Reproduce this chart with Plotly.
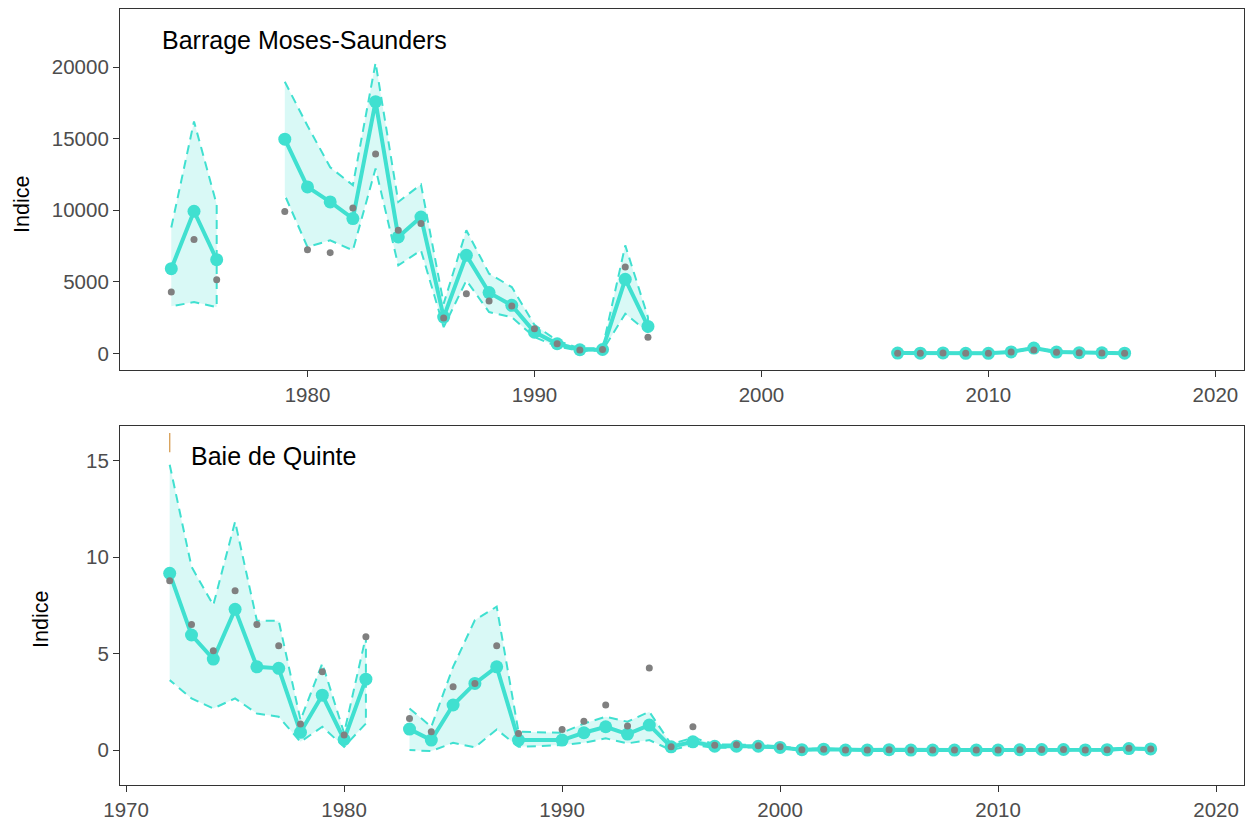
import plotly.graph_objects as go

# ---------------- DATA ----------------
# Barrage Moses-Saunders (None = break in series)
ms_years = [1974, 1975, 1976, 1977, 1979, 1980, 1981, 1982, 1983, 1984, 1985, 1986, 1987, 1988,
            1989, 1990, 1991, 1992, 1993, 1994, 1995, 2000, 2006, 2007, 2008, 2009, 2010, 2011,
            2012, 2013, 2014, 2015, 2016]
ms_fit = [5920, 9930, 6550, None, 14960, 11630, 10580, 9420, 17580, 8140, 9530, 2540, 6850, 4250,
          3360, 1490, 680, 260, 280, 5180, 1890, None, 30, 20, 40, 15, 15, 110,
          380, 100, 60, 50, 20]
ms_obs = [4290, 7950, 5150, None, 9910, 7250, 7040, 10160, 13920, 8600, 9070, 2470, 4170, 3660,
          3310, 1720, 680, 250, 280, 6040, 1140, None, 20, 10, 30, 10, 10, 100,
          250, 80, 50, 40, 10]
ms_upper = [8800, 16200, 10400, None, 18970, 15900, 13000, 11750, 20300, 10580, 11800, 3480, 8600, 5570,
            4640, 2000, 900, 350, 380, 7550, 2540, None, 60, 50, 70, 45, 45, 150,
            430, 140, 90, 80, 50]
ms_lower = [3290, 3590, 3240, None, 11050, 7430, 7900, 7200, 12920, 6150, 7200, 1840, 5100, 2890,
            2540, 1140, 500, 180, 200, 2780, 1490, None, 10, 5, 15, 5, 5, 80,
            320, 70, 40, 30, 5]

# Baie de Quinte
bq_years = [1972, 1973, 1974, 1975, 1976, 1977, 1978, 1979, 1980, 1981, 1982, 1983, 1984, 1985,
            1986, 1987, 1988, 1990, 1991, 1992, 1993, 1994, 1995, 1996, 1997, 1998, 1999, 2000,
            2001, 2002, 2003, 2004, 2005, 2006, 2007, 2008, 2009, 2010, 2011, 2012, 2013, 2014,
            2015, 2016, 2017]
bq_fit = [9.17, 5.97, 4.72, 7.30, 4.32, 4.24, 0.92, 2.85, 0.55, 3.68, None, 1.09, 0.52, 2.34,
          3.46, 4.32, 0.52, 0.52, 0.90, 1.21, 0.83, 1.30, 0.17, 0.43, 0.20, 0.20, 0.20, 0.14,
          0.02, 0.05, 0.0, 0.0, 0.02, 0.0, 0.0, 0.0, 0.0, 0.0, 0.02, 0.03, 0.03, 0.01,
          0.02, 0.08, 0.06]
bq_obs = [8.79, 6.52, 5.15, 8.27, 6.52, 5.41, 1.35, 4.06, 0.78, 5.88, None, 1.64, 0.95, 3.29,
          3.46, 5.41, 0.86, 1.07, 1.50, 2.34, 1.25, 4.26, 0.17, 1.21, 0.25, 0.28, 0.22, 0.17,
          0.02, 0.05, 0.0, 0.0, 0.02, 0.0, 0.0, 0.0, 0.0, 0.0, 0.02, 0.03, 0.03, 0.01,
          0.02, 0.09, 0.06]
bq_upper = [14.8, 9.51, 7.52, 11.85, 6.71, 6.71, 1.56, 4.50, 0.88, 5.90, None, 2.16, 1.21, 4.32,
            6.75, 7.44, 0.95, 0.90, 1.38, 1.73, 1.47, 1.99, 0.30, 0.65, 0.30, 0.28, 0.26, 0.20,
            0.06, 0.09, 0.04, 0.04, 0.06, 0.04, 0.04, 0.04, 0.04, 0.04, 0.06, 0.07, 0.07, 0.05,
            0.06, 0.13, 0.10]
bq_lower = [3.63, 2.68, 2.16, 2.68, 1.90, 1.73, 0.43, 1.21, 0.17, 1.38, None, 0.00, -0.05, 0.38,
            0.14, 1.07, 0.17, 0.26, 0.38, 0.61, 0.35, 0.52, 0.00, 0.26, 0.12, 0.13, 0.14, 0.09,
            -0.02, 0.01, -0.03, -0.03, -0.02, -0.03, -0.03, -0.03, -0.03, -0.03, -0.02, -0.01, -0.01, -0.03,
            -0.02, 0.04, 0.02]

# orange segment at the top of the Baie de Quinte panel
bq_orange_x = [1972, 1972]
bq_orange_y = [15.45, 16.45]

x_ticks_top = [1980, 1990, 2000, 2010, 2020]
x_ticks_bottom = [1970, 1980, 1990, 2000, 2010, 2020]
y_ticks_top = [0, 5000, 10000, 15000, 20000]
y_ticks_bottom = [0, 5, 10, 15]

panel_titles = ["Barrage Moses-Saunders", "Baie de Quinte"]
y_title = "Indice"

# ---------------- STYLE ----------------
W, H = 1251, 820
TEAL = "#40E0D0"
FILL = "rgba(64,224,208,0.2)"
GRAY = "#808080"
FONT = "Liberation Sans, Arial, sans-serif"


def segments(xs, lo, hi):
    segs, cx, cl, ch = [], [], [], []
    for x, l, h in zip(xs, lo, hi):
        if l is None or h is None:
            if cx:
                segs.append((cx, cl, ch))
            cx, cl, ch = [], [], []
        else:
            cx.append(x); cl.append(l); ch.append(h)
    if cx:
        segs.append((cx, cl, ch))
    return segs


fig = go.Figure()


def add_panel(xs, fit, obs, up, lo, xa, ya):
    for sx, sl, sh in segments(xs, lo, up):
        fig.add_trace(go.Scatter(
            x=sx + sx[::-1], y=sh + sl[::-1], mode="lines", fill="toself",
            fillcolor=FILL, line=dict(color=TEAL, width=2, dash="9px,6px"),
            hoverinfo="skip", showlegend=False, xaxis=xa, yaxis=ya))
    fig.add_trace(go.Scatter(
        x=xs, y=fit, mode="lines+markers", connectgaps=False,
        line=dict(color=TEAL, width=4), marker=dict(color=TEAL, size=13),
        showlegend=False, xaxis=xa, yaxis=ya))
    fig.add_trace(go.Scatter(
        x=xs, y=obs, mode="markers",
        marker=dict(color=GRAY, size=7), showlegend=False, xaxis=xa, yaxis=ya))


add_panel(ms_years, ms_fit, ms_obs, ms_upper, ms_lower, "x", "y")
add_panel(bq_years, bq_fit, bq_obs, bq_upper, bq_lower, "x2", "y2")
fig.add_trace(go.Scatter(x=bq_orange_x, y=bq_orange_y, mode="lines",
                         line=dict(color="#D9A45F", width=1.4), showlegend=False,
                         xaxis="x2", yaxis="y2"))

xdom = [120 / W, 1244 / W]
axis_common = dict(showline=True, mirror=True, linecolor="#333333", linewidth=1.2,
                   showgrid=False, zeroline=False, ticks="outside", ticklen=6,
                   tickwidth=1.2, tickcolor="#333333", automargin=False, tickformat="d",
                   tickfont=dict(family=FONT, size=20.5, color="#4D4D4D"))

fig.update_layout(
    width=W, height=H, margin=dict(l=0, r=0, t=0, b=0),
    paper_bgcolor="white", plot_bgcolor="white", showlegend=False,
    xaxis=dict(domain=xdom, range=[1971.74, 2021.26], tickvals=x_ticks_top, anchor="y", **axis_common),
    yaxis=dict(domain=[1 - 370 / H, 1 - 9 / H], range=[-1152, 24049], tickvals=y_ticks_top,
               anchor="x", **axis_common),
    xaxis2=dict(domain=xdom, range=[1969.72, 2021.28], tickvals=x_ticks_bottom, anchor="y2", **axis_common),
    yaxis2=dict(domain=[1 - 785 / H, 1 - 426 / H], range=[-1.81, 16.81], tickvals=y_ticks_bottom,
                anchor="x2", **axis_common),
)

ann = [
    dict(text=panel_titles[0], x=160 / W, y=1 - 40 / H, xanchor="left", yanchor="middle",
         font=dict(family=FONT, size=25, color="black")),
    dict(text=panel_titles[1], x=189 / W, y=1 - 456 / H, xanchor="left", yanchor="middle",
         font=dict(family=FONT, size=25, color="black")),
    dict(text=y_title, x=22 / W, y=1 - 205 / H, xanchor="center", yanchor="middle", textangle=-90,
         font=dict(family=FONT, size=21.5, color="black")),
    dict(text=y_title, x=41 / W, y=1 - 620 / H, xanchor="center", yanchor="middle", textangle=-90,
         font=dict(family=FONT, size=21.5, color="black")),
]
for a in ann:
    a.update(xref="paper", yref="paper", showarrow=False)
fig.update_layout(annotations=ann)

fig.write_html("out.html")
